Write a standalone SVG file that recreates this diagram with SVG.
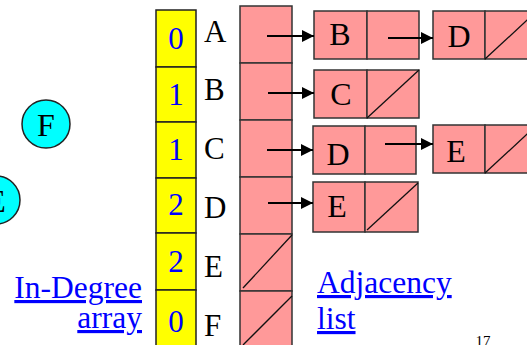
<svg xmlns="http://www.w3.org/2000/svg" width="527" height="345" viewBox="0 0 527 345">
<style>
.yc{fill:#FFFF00;stroke:#222;stroke-width:1.5}
.pk{fill:#FF9999;stroke:#333;stroke-width:1.5}
.sl{stroke:#111;stroke-width:1.3;fill:none}
.cir{fill:#00FFFF;stroke:#222;stroke-width:1.5}
.t{font-family:"Liberation Serif",serif;font-size:31px;fill:#000}
.num{font-family:"Liberation Serif",serif;font-size:31px;fill:#0000FF;text-anchor:middle}
.nl{font-family:"Liberation Serif",serif;font-size:32px;fill:#000;text-anchor:middle}
.lnk{font-family:"Liberation Serif",serif;font-size:31.5px;fill:#0000FF;text-decoration:underline}
.ar{stroke:#000;stroke-width:2;fill:none;marker-end:url(#ah)}
</style>
<defs>
<marker id="ah" markerWidth="12" markerHeight="12" refX="12" refY="6" orient="auto" markerUnits="userSpaceOnUse">
<path d="M0,0 L12,6 L0,12 Z" fill="#000"/>
</marker>
</defs>
<rect width="527" height="345" fill="#fff"/>

<g id="circleF"><circle class="cir" cx="46" cy="124" r="24"/><text class="nl" x="46" y="136">F</text></g>
<g id="circleE"><circle class="cir" cx="-4" cy="200" r="24"/><text class="nl" x="-4" y="212">E</text></g>

<g id="indegree">
<rect class="yc" x="156" y="10" width="40" height="57"/>
<rect class="yc" x="156" y="67" width="40" height="55"/>
<rect class="yc" x="156" y="122" width="40" height="56"/>
<rect class="yc" x="156" y="178" width="40" height="55"/>
<rect class="yc" x="156" y="233" width="40" height="57"/>
<rect class="yc" x="156" y="290" width="40" height="60"/>
<text class="num" x="176" y="49">0</text>
<text class="num" x="176" y="105">1</text>
<text class="num" x="176" y="160">1</text>
<text class="num" x="176" y="215">2</text>
<text class="num" x="176" y="272">2</text>
<text class="num" x="176" y="332">0</text>
</g>

<g id="labels">
<text class="t" x="204" y="42">A</text>
<text class="t" x="204" y="100">B</text>
<text class="t" x="204" y="159">C</text>
<text class="t" x="204" y="218">D</text>
<text class="t" x="204" y="277">E</text>
<text class="t" x="204" y="336">F</text>
</g>

<g id="adjarray">
<rect class="pk" x="240" y="6" width="52" height="57"/>
<rect class="pk" x="240" y="63" width="52" height="57"/>
<rect class="pk" x="240" y="120" width="52" height="57"/>
<rect class="pk" x="240" y="177" width="52" height="57"/>
<rect class="pk" x="240" y="234" width="52" height="57"/>
<rect class="pk" x="240" y="291" width="52" height="60"/>
<line class="sl" x1="243" y1="288" x2="292" y2="235"/>
<line class="sl" x1="243" y1="345" x2="292" y2="296"/>
</g>

<g id="nodeB">
<rect class="pk" x="314" y="11" width="53" height="48"/>
<rect class="pk" x="367" y="11" width="52" height="48"/>
<text class="nl" x="340" y="45">B</text>
</g>
<g id="nodeD1">
<rect class="pk" x="433" y="11" width="52" height="48"/>
<rect class="pk" x="485" y="11" width="52" height="48"/>
<line class="sl" x1="485" y1="59" x2="537" y2="11"/>
<text class="nl" x="459" y="47">D</text>
</g>
<g id="nodeC">
<rect class="pk" x="314" y="70" width="53" height="48"/>
<rect class="pk" x="367" y="70" width="52" height="48"/>
<line class="sl" x1="367" y1="118" x2="419" y2="70"/>
<text class="nl" x="341" y="105">C</text>
</g>
<g id="nodeD2">
<rect class="pk" x="313" y="126" width="52" height="48"/>
<rect class="pk" x="365" y="126" width="51" height="48"/>
<text class="nl" x="338" y="165">D</text>
</g>
<g id="nodeE1">
<rect class="pk" x="433" y="125" width="52" height="48"/>
<rect class="pk" x="485" y="125" width="52" height="48"/>
<line class="sl" x1="485" y1="173" x2="537" y2="125"/>
<text class="nl" x="456" y="162">E</text>
</g>
<g id="nodeE2">
<rect class="pk" x="313" y="182" width="52" height="50"/>
<rect class="pk" x="365" y="182" width="53" height="50"/>
<line class="sl" x1="367" y1="230" x2="418" y2="183"/>
<text class="nl" x="337" y="217">E</text>
</g>

<g id="connectors">
<line class="ar" x1="267" y1="36" x2="314" y2="36"/>
<line class="ar" x1="268" y1="93" x2="314" y2="93"/>
<line class="ar" x1="267" y1="150" x2="313" y2="150"/>
<line class="ar" x1="268" y1="203" x2="313" y2="203"/>
<line class="ar" x1="388" y1="38" x2="433" y2="38"/>
<line class="ar" x1="385" y1="144" x2="433" y2="144"/>
</g>

<g id="captions">
<text class="lnk" x="142" y="298" text-anchor="end">In-Degree</text>
<text class="lnk" x="142" y="328" text-anchor="end">array</text>
<text class="lnk" x="317" y="293">Adjacency</text>
<text class="lnk" x="317" y="329">list</text>
<text x="483" y="346" font-family="Liberation Serif, serif" font-size="15" text-anchor="middle" fill="#000">17</text>
</g>
</svg>
